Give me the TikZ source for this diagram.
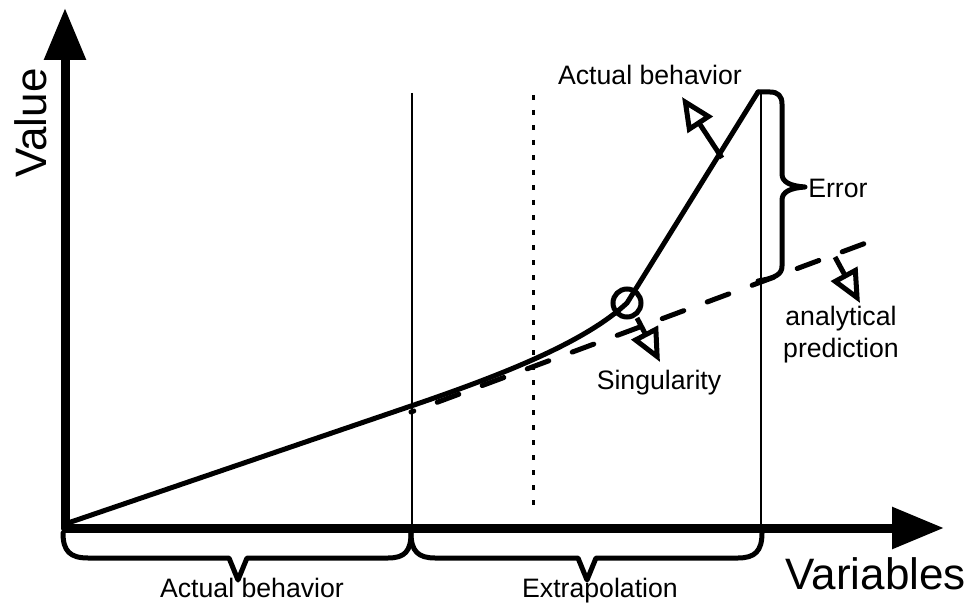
\documentclass[tikz,border=0pt]{standalone}
\usepackage{fontspec}
\setmainfont{Liberation Sans}
\usetikzlibrary{arrows.meta}
\begin{document}
\begin{tikzpicture}[x=0.75pt,y=-0.75pt,
  axisline/.style={line width=6.75pt,line join=round,{Triangle[length=39pt,width=30pt]}-{Triangle[length=39pt,width=30pt]}},
  curveline/.style={line width=3.75pt,line cap=round,line join=round},
  dashline/.style={line width=3.75pt,line cap=round,dash pattern=on 17.25pt off 18.75pt,dash phase=15pt},
  thinline/.style={line width=2pt},
  dotline/.style={line width=2.25pt,dash pattern=on 3.75pt off 7.5pt},
  bracestyle/.style={line width=3.75pt,line join=round,line cap=round},
  pointer/.style={line width=3.75pt,-{Triangle[open,length=25pt,width=22pt,fill=white]}},
  lbl/.style={font=\fontsize{20}{24}\selectfont,inner sep=0pt},
  biglbl/.style={font=\fontsize{33}{40}\selectfont,inner sep=0pt}
]
\useasboundingbox (0,0) rectangle (975,606);

% coordinates
\coordinate (ytip) at (65,8);
\coordinate (O) at (65,528);
\coordinate (xtip) at (944,528);
\coordinate (C0) at (65,524);
\coordinate (A) at (411,406);
\coordinate (S) at (627,303);
\coordinate (P) at (758,92);
\coordinate (D0) at (411,412);
\coordinate (D1) at (874,240);

% vertical guide lines
\draw[thinline] (412,93) -- (412,528);
\draw[thinline] (761,92) -- (761,528);
\draw[dotline] (533,95) -- (533,515);

% axes
\draw[axisline] (ytip) -- (O) -- (xtip);

% curve and prediction
\draw[curveline] (C0) -- (A) .. controls (505,374) and (585,342) .. (S) -- (P);
\draw[dashline] (D0) -- (D1);

% singularity circle
\node[draw,circle,line width=3.75pt,minimum size=21pt,inner sep=0pt] (sing) at (S) {};

% error brace
\draw[bracestyle] (P) -- (770,92) .. controls (778,92) and (782,96) .. (782,104)
  -- (782,174) .. controls (782,182) and (790,186) .. (805,187)
  .. controls (790,188) and (782,192) .. (782,200)
  -- (782,266) .. controls (782,274) and (776,278) .. (758,281);

% bottom braces
\draw[bracestyle] (63,533) .. controls (63,551) and (70,558) .. (88,558) -- (229,558) -- (238,580) -- (247,558) -- (388,558) .. controls (405,558) and (411,551) .. (411,533);
\draw[bracestyle] (411,533) .. controls (411,551) and (418,558) .. (435,558) -- (578,558) -- (587,580) -- (596,558) -- (738,558) .. controls (755,558) and (762,551) .. (762,533);

% pointers
\coordinate (pa0) at (722,158);
\coordinate (pa1) at (682,97);
\coordinate (ps0) at (637,318);
\coordinate (ps1) at (660,362);
\coordinate (pp0) at (835,257);
\coordinate (pp1) at (860,303);
\draw[pointer] (pa0) -- (pa1);
\draw[pointer] (ps0) -- (ps1);
\draw[pointer] (pp0) -- (pp1);

% labels
\node[lbl,anchor=base] (lab1) at (650,85) {Actual behavior};
\node[lbl,anchor=west] (err) at (808,188) {Error};
\node[lbl,anchor=base] (singl) at (659,389) {Singularity};
\node[lbl,align=center] (anal) at (841,335) {analytical\\prediction};
\node[lbl,anchor=base] (lab2) at (252,597) {Actual behavior};
\node[lbl,anchor=base] (extr) at (600,597) {Extrapolation};
\node[biglbl,anchor=east] (vars) at (966,574) {Variables};
\node[biglbl,rotate=90] (val) at (31,123) {Value};
\end{tikzpicture}
\end{document}
